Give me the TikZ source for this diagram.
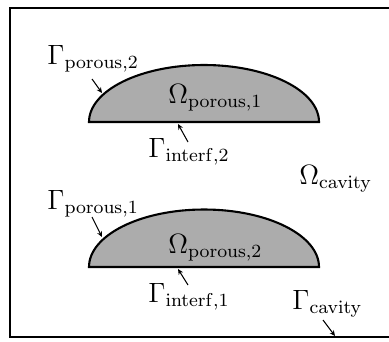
\documentclass[tikz,border=0pt]{standalone}
\usepackage{tikz}
\usetikzlibrary{arrows.meta,positioning}
\begin{document}
\begin{tikzpicture}[x=0.43pt,y=-0.43pt,font=\fontsize{11.5}{14}\selectfont,
  frame/.style={draw,line width=1pt},
  porous/.style={draw,line width=0.9pt,fill=gray!65},
  lbl/.style={anchor=base west,inner sep=0pt},
  arr/.style={-{Stealth[length=2.4pt,width=2.2pt]},line width=0.45pt}]
\useasboundingbox (0,0) rectangle (389,341);
\clip (0,0) rectangle (389,341);
\draw[frame] (400,8) -- (10,8) -- (10,337) -- (400,337);
% upper and lower porous layers
\draw[porous] (89,122) arc[start angle=180,end angle=360,x radius=115,y radius=57] -- cycle;
\draw[porous] (89,267) arc[start angle=180,end angle=360,x radius=115,y radius=57.5] -- cycle;
\node[lbl] (gp2) at (47,64) {$\Gamma_{\mathrm{porous},2}$};
\node[lbl] (op1) at (168,103) {$\Omega_{\mathrm{porous},1}$};
\node[lbl] (gi2) at (148,157) {$\Gamma_{\mathrm{interf},2}$};
\node[lbl] (ocav) at (299,184) {$\Omega_{\mathrm{cavity}}$};
\node[lbl] (gp1) at (47,209) {$\Gamma_{\mathrm{porous},1}$};
\node[lbl] (op2) at (168,253) {$\Omega_{\mathrm{porous},2}$};
\node[lbl] (gi1) at (148,302) {$\Gamma_{\mathrm{interf},1}$};
\node[lbl] (gcav) at (292,309) {$\Gamma_{\mathrm{cavity}}$};
% arrow ends
\coordinate (gp2a) at (92,79);  \coordinate (gp2b) at (102,93);
\coordinate (gi2a) at (188,142); \coordinate (gi2b) at (178,124);
\coordinate (gp1a) at (92,217); \coordinate (gp1b) at (102,237);
\coordinate (gi1a) at (188,285); \coordinate (gi1b) at (178,269);
\coordinate (gcava) at (323,320); \coordinate (gcavb) at (335,336);
\draw[arr] (gp2a) -- (gp2b);
\draw[arr] (gi2a) -- (gi2b);
\draw[arr] (gp1a) -- (gp1b);
\draw[arr] (gi1a) -- (gi1b);
\draw[arr] (gcava) -- (gcavb);
\end{tikzpicture}
\end{document}
